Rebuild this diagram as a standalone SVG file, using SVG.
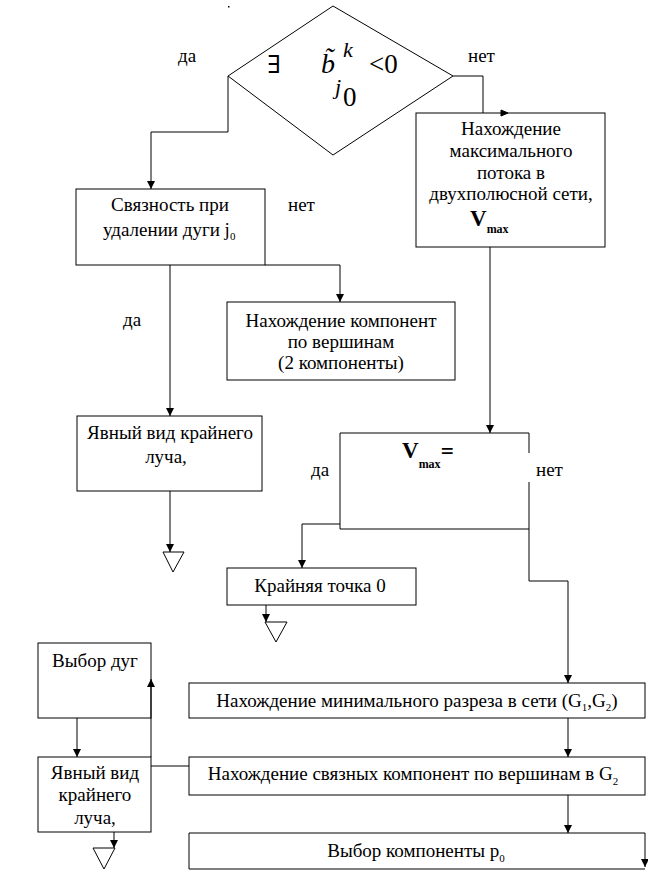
<svg xmlns="http://www.w3.org/2000/svg" width="648" height="872" viewBox="0 0 648 872">
<defs>
<marker id="ah" markerUnits="userSpaceOnUse" markerWidth="8" markerHeight="8" refX="8" refY="4" orient="auto">
<path d="M0,0 L8,4 L0,8 z" fill="#000"/>
</marker>
<style>
.b{fill:#fff;stroke:#000;stroke-width:1}
.t{font-family:"Liberation Serif","Times New Roman","DejaVu Serif",serif;font-size:19px;fill:#000}
.m{text-anchor:middle}
.s{font-size:11px}
.c path{fill:none;stroke:#000;stroke-width:1}
.c path.a{marker-end:url(#ah)}
.tri{fill:#fff;stroke:#000;stroke-width:1}
</style>
</defs>
<rect width="648" height="872" fill="#fff"/>
<rect x="228" y="6" width="1.5" height="1.5" fill="#000"/>

<g font-family="Liberation Serif, Times New Roman, serif">
<g id="diamond">
<polygon class="b" points="333,6 453,76 333,155 228,76"/>
<text class="t" x="267" y="73" style="font-size:25px">∃</text>
<text class="t" x="321" y="73" style="font-size:28px;font-style:italic">b̃</text>
<text class="t" x="343" y="57" style="font-size:22px;font-style:italic">k</text>
<text class="t" x="369" y="73" style="font-size:27px">&lt;0</text>
<text class="t" x="335" y="94" style="font-size:22px;font-style:italic">j</text>
<text class="t" x="343" y="106" style="font-size:27px">0</text>
</g>

<g id="labels">
<text class="t" x="178" y="62">да</text>
<text class="t" x="468" y="62">нет</text>
<text class="t" x="288" y="211">нет</text>
<text class="t" x="123" y="326">да</text>
<text class="t" x="311" y="476">да</text>
<text class="t" x="536" y="476">нет</text>
</g>

<g id="maxflow">
<rect class="b" x="416" y="113" width="189" height="134"/>
<text class="t m" x="511" y="135">Нахождение</text>
<text class="t m" x="511" y="157">максимального</text>
<text class="t m" x="511" y="179">потока в</text>
<text class="t m" x="511" y="200">двухполюсной сети,</text>
<text class="t" x="470" y="226" style="font-size:23px;font-weight:bold">V<tspan dy="7" style="font-size:12px">max</tspan></text>
</g>

<g id="connect">
<rect class="b" x="76" y="189" width="189" height="76"/>
<text class="t m" x="170" y="211">Связность при</text>
<text class="t" x="103" y="236">удалении дуги j<tspan class="s" dy="4">0</tspan></text>
</g>

<g id="components">
<rect class="b" x="227" y="302" width="228" height="78"/>
<text class="t m" x="341" y="327">Нахождение компонент</text>
<text class="t m" x="341" y="348">по вершинам</text>
<text class="t m" x="341" y="369">(2 компоненты)</text>
</g>

<g id="ray1">
<rect class="b" x="77" y="416" width="185" height="75"/>
<text class="t m" x="170" y="439">Явный вид крайнего</text>
<text class="t m" x="166" y="463">луча,</text>
</g>

<g id="vmax">
<path class="b" d="M529,453 V433 H340 V529 H529 V482"/>
<text class="t" x="402" y="458" style="font-size:23px;font-weight:bold">V<tspan dy="10" style="font-size:12px">max</tspan><tspan dy="-9" style="font-size:23px">=</tspan></text>
</g>

<g id="point0">
<rect class="b" x="227" y="568" width="189" height="37"/>
<text class="t m" x="320" y="592">Крайняя точка 0</text>
</g>

<g id="mincut">
<rect class="b" x="189" y="683" width="456" height="35"/>
<text class="t m" x="417" y="707">Нахождение минимального разреза в сети (G<tspan class="s" dy="4">1</tspan><tspan dy="-4">,G</tspan><tspan class="s" dy="4">2</tspan><tspan dy="-4">)</tspan></text>
</g>

<g id="linkcomp">
<rect class="b" x="189" y="757" width="456" height="38"/>
<text class="t m" x="413" y="780">Нахождение связных компонент по вершинам в G<tspan class="s" dy="5">2</tspan></text>
</g>

<g id="choosecomp">
<path class="b" d="M645,833 H189 V869 H645" fill="none"/>
<text class="t m" x="416" y="857">Выбор компоненты p<tspan class="s" dy="5">0</tspan></text>
</g>

<g id="arcs">
<rect class="b" x="38" y="643" width="113" height="75"/>
<text class="t m" x="95" y="667">Выбор дуг</text>
</g>

<g id="ray2">
<rect class="b" x="38" y="757" width="113" height="75"/>
<text class="t m" x="95" y="779">Явный вид</text>
<text class="t m" x="95" y="801">крайнего</text>
<text class="t m" x="95" y="824">луча,</text>
</g>
</g>

<g id="ends">
<polygon class="tri" points="163,552 184,552 173,572"/>
<polygon class="tri" points="265,622 287,622 276,642"/>
<polygon class="tri" points="93,848 115,848 104,869"/>
</g>

<g id="connectors" class="c">
<path class="a" d="M228,76 V132 H151 V189"/>
<path d="M453,76 H483 V113"/>
<path d="M501,110 L508,113 L501,116 z" style="fill:#000"/>
<path class="a" d="M170,265 V416"/>
<path class="a" d="M265,265 H340 V302"/>
<path class="a" d="M170,491 V552"/>
<path class="a" d="M490,247 V433"/>
<path class="a" d="M340,524 H302 V568"/>
<path class="a" d="M266,605 V622"/>
<path class="a" d="M529,529 V581 H568 V683"/>
<path class="a" d="M568,718 V757"/>
<path class="a" d="M568,795 V833"/>
<path class="a" d="M645,833 V867"/>
<path class="a" d="M77,718 V757"/>
<path class="a" d="M151,757 V679"/>
<path d="M151,766 H189"/>
<path class="a" d="M114,832 V848"/>
</g>
</svg>
